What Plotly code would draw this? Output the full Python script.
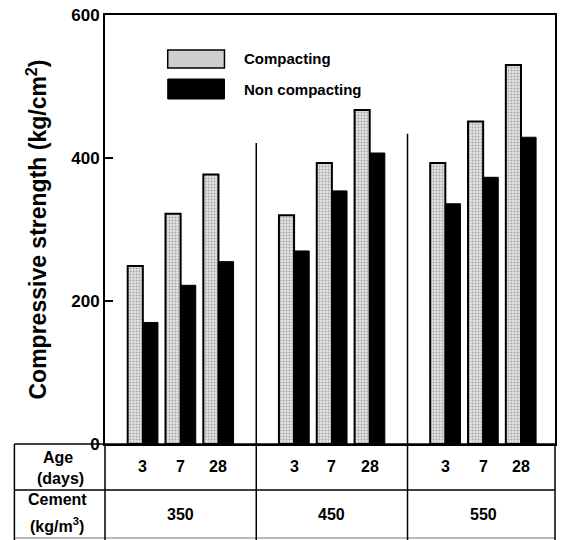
import plotly.graph_objects as go

cement = ["350", "450", "550"]
ages = ["3", "7", "28"]
compacting = [249, 322, 377, 320, 393, 467, 393, 451, 530]
non_compacting = [170, 222, 255, 270, 354, 407, 336, 373, 429]

# slot positions: groups separated by one empty slot
xpos = [g * 4 + a for g in range(len(cement)) for a in range(len(ages))]
age_labels = [ages[a] for g in range(len(cement)) for a in range(len(ages))]

FONT = "Liberation Sans, Arial, sans-serif"

def f(size):
    return dict(size=size, family=FONT, color="black", weight=700)

fig = go.Figure()
fig.add_trace(go.Bar(
    x=xpos, y=compacting, name="Compacting",
    marker=dict(color="#d9d9d9", line=dict(color="black", width=2),
                pattern=dict(shape=".", fgcolor="#6a6a6a", bgcolor="#e2e2e2", size=3, solidity=0.35)),
    showlegend=False,
))
fig.add_trace(go.Bar(
    x=xpos, y=non_compacting, name="Non compacting",
    marker=dict(color="black", line=dict(color="black", width=1)),
    showlegend=False,
))

shapes = []
# group dividers inside plot
shapes.append(dict(type="line", xref="x", yref="y", x0=3, x1=3, y0=0, y1=421, line=dict(color="black", width=1.5)))
shapes.append(dict(type="line", xref="x", yref="y", x0=7, x1=7, y0=0, y1=434, line=dict(color="black", width=1.5)))

# table (paper coords): plot spans x 105..557 px, y 15..444 px
def px(xp):
    return (xp - 105) / 452.0
def py(yp):
    return (444 - yp) / 429.0

tl = dict(color="black", width=1.5)
shapes.append(dict(type="line", xref="paper", yref="paper", x0=px(14), x1=1, y0=0, y1=0, line=tl))
shapes.append(dict(type="line", xref="paper", yref="paper", x0=px(14), x1=1, y0=py(490), y1=py(490), line=tl))
shapes.append(dict(type="line", xref="paper", yref="paper", x0=px(14), x1=1, y0=py(538), y1=py(538), line=dict(color="#777", width=1)))
for xv in [px(14), 0, 1]:
    shapes.append(dict(type="line", xref="paper", yref="paper", x0=xv, x1=xv, y0=0, y1=py(540), line=tl))
for xd in [3, 7]:
    shapes.append(dict(type="line", xref="x", yref="paper", x0=xd, x1=xd, y0=0, y1=py(540), line=tl))

# legend patches
shapes.append(dict(type="rect", xref="paper", yref="paper", x0=px(168), x1=px(225), y0=py(68), y1=py(50),
                   fillcolor="#cfcfcf", line=dict(color="black", width=1.5)))
shapes.append(dict(type="rect", xref="paper", yref="paper", x0=px(168), x1=px(225), y0=py(99), y1=py(79),
                   fillcolor="black", line=dict(color="black", width=1)))

annotations = []
def ann(x, y, text, size, xref="paper", xanchor="center"):
    annotations.append(dict(xref=xref, yref="paper", x=x, y=y, text=text, showarrow=False,
                            xanchor=xanchor, yanchor="middle", font=f(size)))

ann(px(243), py(58), "Compacting", 15, xanchor="left")
ann(px(243), py(89), "Non compacting", 15, xanchor="left")
# row headers
ann(px(58), py(457), "Age", 16)
ann(px(60), py(478), "(days)", 16)
ann(px(57), py(499), "Cement", 16)
ann(px(57), py(525), "(kg/m<sup>3</sup>)", 16)
# age labels
for xv, lab in zip(xpos, age_labels):
    ann(xv, py(466), lab, 16, xref="x")
# cement labels
for g, lab in enumerate(cement):
    ann(g * 4 + 1, py(514), lab, 16, xref="x")

fig.update_layout(
    width=562, height=540,
    margin=dict(l=105, r=5, t=15, b=96),
    paper_bgcolor="white", plot_bgcolor="white",
    barmode="group", bargap=0.2, bargroupgap=0,
    font=f(15),
    shapes=shapes, annotations=annotations,
    xaxis=dict(range=[-1, 10.9], showticklabels=False, ticks="", showgrid=False, zeroline=False,
               showline=True, linecolor="black", linewidth=2, mirror=True, fixedrange=True),
    yaxis=dict(range=[0, 600], tickvals=[0, 200, 400, 600], ticks="inside", ticklen=8, tickwidth=2,
               tickcolor="black", showgrid=False, zeroline=False, showline=True, linecolor="black",
               linewidth=2, mirror=True, tickfont=f(17),
               title=dict(text="Compressive strength (kg/cm<sup>2</sup>)", font=f(23), standoff=18)),
)

fig.write_html("out.html")
